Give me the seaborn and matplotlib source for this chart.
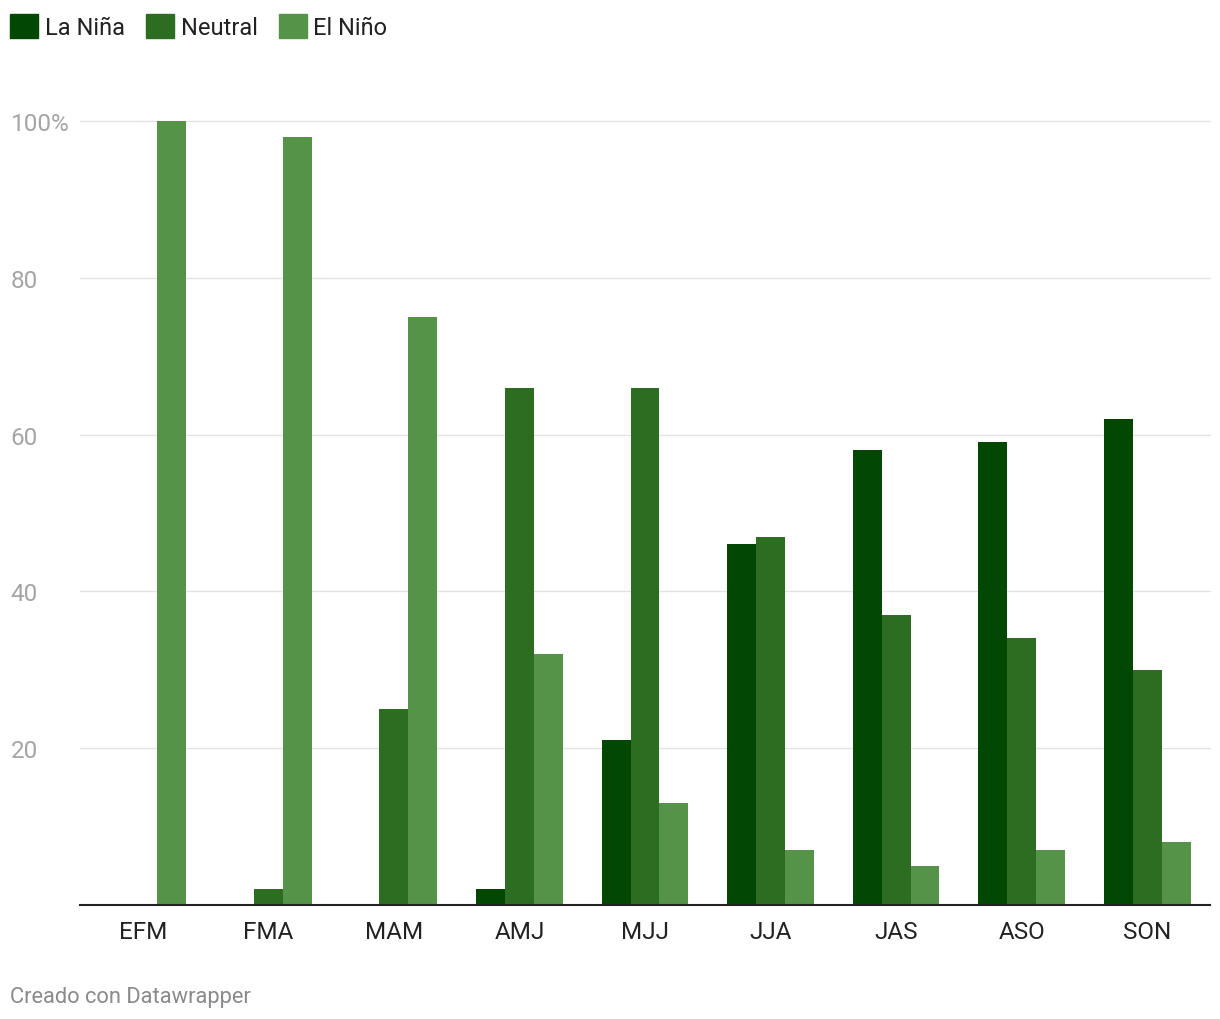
import matplotlib
matplotlib.use("Agg")
import matplotlib.pyplot as plt
import seaborn as sns
import pandas as pd

periods = ["EFM", "FMA", "MAM", "AMJ", "MJJ", "JJA", "JAS", "ASO", "SON"]
la_nina = [0, 0, 0, 2, 21, 46, 58, 59, 62]
neutral = [0, 2, 25, 66, 66, 47, 37, 34, 30]
el_nino = [100, 98, 75, 32, 13, 7, 5, 7, 8]
phases = ["La Niña", "Neutral", "El Niño"]
colors = ["#024702", "#2d6d22", "#559448"]
ytick_vals = [20, 40, 60, 80, 100]
ytick_labels = ["20", "40", "60", "80", "100%"]

rows = []
for series, name in zip([la_nina, neutral, el_nino], phases):
    for p, v in zip(periods, series):
        rows.append({"period": p, "phase": name, "value": v})
df = pd.DataFrame(rows)

sns.set_theme(style="white")
plt.rcParams["font.family"] = ["Roboto", "DejaVu Sans"]

W, H = 1220, 1020
fig = plt.figure(figsize=(W / 100, H / 100), dpi=100)
ax = fig.add_axes([80 / W, (H - 906) / H, 1130 / W, (906 - 122) / H])

sns.barplot(data=df, x="period", y="value", hue="phase", order=periods,
            hue_order=phases, palette=colors, saturation=1, width=0.69,
            ax=ax, legend=True, zorder=3, linewidth=0, edgecolor="none")

ax.set_xlim(-0.5, len(periods) - 0.5)
ax.set_ylim(0, 100)
ax.set_xlabel("")
ax.set_ylabel("")

for v in ytick_vals:
    ax.axhline(v, color="#e2e2e2", lw=1, zorder=0, clip_on=False)

ax.set_yticks(ytick_vals)
ax.set_yticklabels(ytick_labels, fontsize=17.5, color="#a5a5a5")
ax.tick_params(axis="y", length=0, pad=50)
for lab in ax.get_yticklabels():
    lab.set_horizontalalignment("left")

ax.tick_params(axis="x", length=0, pad=11, labelsize=17.5, labelcolor="#222222")

for s in ["top", "right", "left"]:
    ax.spines[s].set_visible(False)
ax.spines["bottom"].set_color("#222222")
ax.spines["bottom"].set_linewidth(1.5)
ax.spines["bottom"].set_zorder(5)

ax.get_legend().remove()
handles = [plt.Rectangle((0, 0), 1, 1, color=c) for c in colors]
fig.legend(handles, phases, loc="upper left", bbox_to_anchor=(10 / W, 1 - 15 / H),
           ncol=3, frameon=False, fontsize=17, handlelength=1.2, handleheight=1.2,
           handletextpad=0.27, columnspacing=0.9, borderpad=0, borderaxespad=0,
           labelcolor="#222222")

fig.text(10 / W, 1 - 998 / H, "Creado con Datawrapper", fontsize=15.75,
         color="#8a8a8a", ha="left", va="center")

fig.savefig("out.png", dpi=100)
